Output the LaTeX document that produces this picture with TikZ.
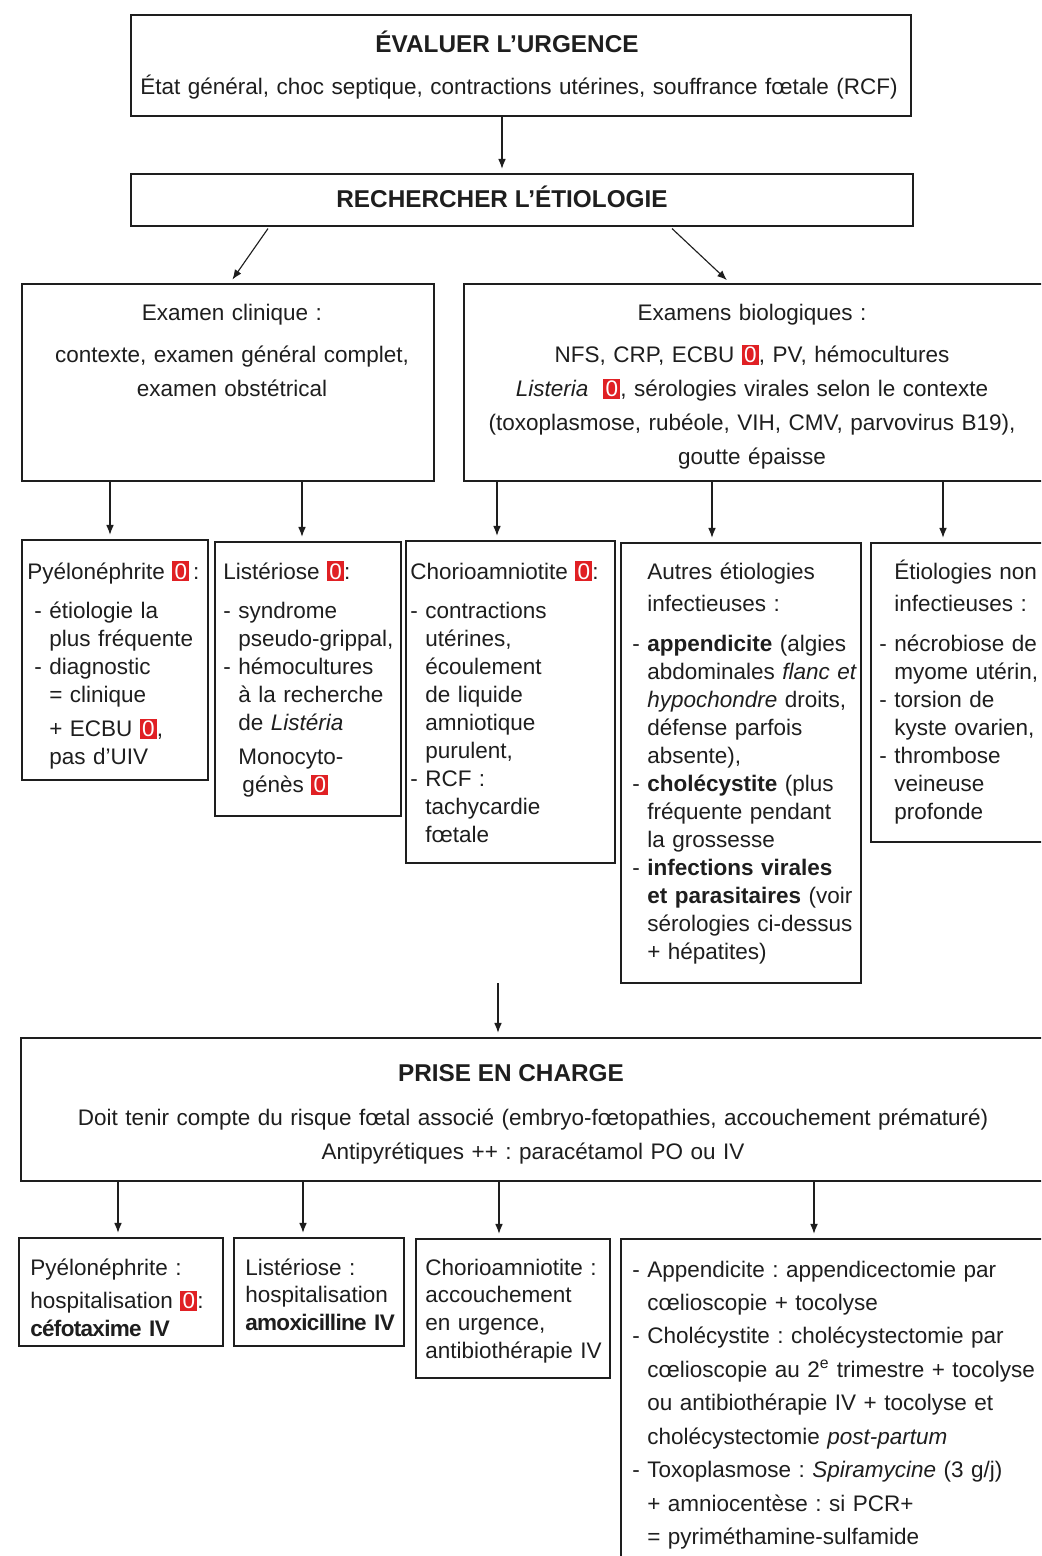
\documentclass[tikz,border=0pt]{standalone}
\usepackage{fontspec}
\setmainfont{Liberation Sans}
\usetikzlibrary{arrows.meta}

\definecolor{ink}{RGB}{30,30,30}
\definecolor{badgered}{RGB}{224,32,36}

\newcommand{\redzero}{{\setlength{\fboxsep}{1.6pt}\colorbox{badgered}{\textcolor{white}{0}}}}
\newcommand{\dashpad}{\hphantom{- }}
\newcommand{\smallpad}{\hspace*{5pt}}
\newcommand{\drug}[1]{\textbf{\addfontfeature{LetterSpace=-3}#1}}
\frenchspacing

\begin{document}
\begin{tikzpicture}[x=0.025cm, y=-0.025cm,
    box/.style 2 args={draw=ink, line width=1.1pt, anchor=north west, inner sep=0pt,
        minimum width=#1*0.025cm, minimum height=#2*0.025cm},
    txt/.style={anchor=base west, inner sep=0pt, text width=#1*0.025cm, align=left,
        font=\fontsize{16}{19.9}\selectfont, text=ink},
    ctxt/.style={anchor=base, inner sep=0pt, text width=#1*0.025cm, align=center,
        font=\fontsize{16}{24.2}\selectfont, text=ink},
    head/.style={anchor=base, inner sep=0pt, font=\bfseries\fontsize{17.3}{20}\selectfont, text=ink},
    arr/.style={draw=ink, line width=0.8pt, -{Latex[length=7pt,width=5.5pt]}, shorten >=3pt},
  ]

  % page, boxes on the right and at the bottom run past the edge
  \useasboundingbox (0,0) rectangle (1041,1556);
  \fill[white] (0,0) rectangle (1041,1556);
  \clip (0,0) rectangle (1041,1556);

  % arrow columns
  \coordinate (colEval) at (502,0);
  \coordinate (colPy) at (110,0);
  \coordinate (colLi) at (302,0);
  \coordinate (colCh) at (497,0);
  \coordinate (colAu) at (712,0);
  \coordinate (colNo) at (943,0);
  \coordinate (colGap) at (498,983);   % arrow with a free start
  \coordinate (colT1) at (118,0);
  \coordinate (colT2) at (303,0);
  \coordinate (colT3) at (499,0);
  \coordinate (colT4) at (814,0);

  % urgence
  \node[box={780}{101}] (eval) at (130,14) {};
  \node[head] (evalT) at (507,53) {ÉVALUER L’URGENCE};
  \node[ctxt=770] (evalB) at (519,95) {État général, choc septique, contractions utérines, souffrance fœtale (RCF)};

  % etiologie
  \node[box={782}{52}] (rech) at (130,173) {};
  \node[head] (rechT) at (502,208) {RECHERCHER L’ÉTIOLOGIE};

  % examens
  \node[box={412}{197}] (clin) at (21,283) {};
  \node[ctxt=400] (clinT) at (232,320) {Examen clinique :\\[6pt]
    contexte, examen général complet,\\
    examen obstétrical};

  \node[box={610}{197}] (bio) at (463,283) {};
  \node[ctxt=590] (bioT) at (752,320) {Examens biologiques :\\[6pt]
    NFS, CRP, ECBU \redzero, PV, hémocultures\\
    \textit{Listeria}\ \ \redzero, sérologies virales selon le contexte\\
    (toxoplasmose, rubéole, VIH, CMV, parvovirus B19),\\
    goutte épaisse};

  % causes
  \node[box={186}{240}] (pyelo) at (21,539) {};
  \node[txt=180] (pyeloT) at ([shift={(6,40)}]pyelo.north west) {Pyélonéphrite \redzero\,:\\[8.5pt]
    \smallpad- étiologie la\\
    \smallpad\dashpad plus fréquente\\
    \smallpad- diagnostic\\
    \smallpad\dashpad = clinique\\[4pt]
    \smallpad\dashpad + ECBU \redzero,\\
    \smallpad\dashpad pas d’UIV};

  \node[box={186}{274}] (liste) at (214,541) {};
  \node[txt=180] (listeT) at ([shift={(9,38)}]liste.north west) {Listériose \redzero:\\[8.5pt]
    - syndrome\\
    \dashpad pseudo-grippal,\\
    - hémocultures\\
    \dashpad à la recherche\\
    \dashpad de \textit{Listéria}\\[4pt]
    \dashpad Monocyto-\\
    \dashpad\hspace*{3pt}génès \redzero};

  \node[box={209}{322}] (chorio) at (405,540) {};
  \node[txt=200] (chorioT) at ([shift={(5,39)}]chorio.north west) {Chorioamniotite \redzero:\\[8.5pt]
    - contractions\\
    \dashpad utérines,\\
    \dashpad écoulement\\
    \dashpad de liquide\\
    \dashpad amniotique\\
    \dashpad purulent,\\
    - RCF :\\
    \dashpad tachycardie\\
    \dashpad fœtale};

  \node[box={240}{440}] (autres) at (620,542) {};
  \node[txt=230] (autresT) at ([shift={(12,37)}]autres.north west) {\dashpad Autres étiologies\\[3pt]
    \dashpad infectieuses :\\[9pt]
    - \textbf{appendicite} (algies\\
    \dashpad abdominales \textit{flanc et}\\
    \dashpad\textit{hypochondre} droits,\\
    \dashpad défense parfois\\
    \dashpad absente),\\
    - \textbf{cholécystite} (plus\\
    \dashpad fréquente pendant\\
    \dashpad la grossesse\\
    - \textbf{infections virales}\\
    \dashpad\textbf{et parasitaires} (voir\\
    \dashpad sérologies ci-dessus\\
    \dashpad + hépatites)};

  \node[box={200}{299}] (noninf) at (870,542) {};
  \node[txt=190] (noninfT) at ([shift={(9,37)}]noninf.north west) {\dashpad Étiologies non\\[3pt]
    \dashpad infectieuses :\\[9pt]
    - nécrobiose de\\
    \dashpad myome utérin,\\
    - torsion de\\
    \dashpad kyste ovarien,\\
    - thrombose\\
    \dashpad veineuse\\
    \dashpad profonde};

  % prise en charge
  \node[box={1040}{143}] (prise) at (20,1037) {};
  \node[head] (priseT) at (511,1081) {PRISE EN CHARGE};
  \node[ctxt=1000] (priseB) at (533,1125) {Doit tenir compte du risque fœtal associé (embryo-fœtopathies, accouchement prématuré)\\
    Antipyrétiques ++ : paracétamol PO ou IV};

  \node[box={204}{108}] (trtPyelo) at (18,1237) {};
  \node[txt=195] (trtPyeloT) at ([shift={(12,38)}]trtPyelo.north west) {Pyélonéphrite :\\[4pt]
    hospitalisation \redzero:\\
    \drug{céfotaxime IV}};

  \node[box={170}{108}] (trtListe) at (233,1237) {};
  \node[txt=165] (trtListeT) at ([shift={(12,38)}]trtListe.north west) {Listériose :\\
    hospitalisation\\
    \drug{amoxicilline IV}};

  \node[box={194}{139}] (trtChorio) at (415,1238) {};
  \node[txt=190] (trtChorioT) at ([shift={(10,37)}]trtChorio.north west) {Chorioamniotite :\\
    accouchement\\
    en urgence,\\
    antibiothérapie IV};

  \node[box={440}{340}] (trtAutres) at (620,1238) {};
  \node[txt=420, font=\fontsize{16}{23.8}\selectfont] (trtAutresT) at ([shift={(12,39)}]trtAutres.north west) {- Appendicite : appendicectomie par\\
    \dashpad cœlioscopie + tocolyse\\
    - Cholécystite : cholécystectomie par\\
    \dashpad cœlioscopie au 2\textsuperscript{e} trimestre + tocolyse\\
    \dashpad ou antibiothérapie IV + tocolyse et\\
    \dashpad cholécystectomie \textit{post-partum}\\
    - Toxoplasmose : \textit{Spiramycine} (3 g/j)\\
    \dashpad + amniocentèse : si PCR+\\
    \dashpad = pyriméthamine-sulfamide};

  % connectors
  \draw[arr] (eval.south -| colEval) -- (rech.north -| colEval);
  \draw[arr] ([shift={(138,2)}]rech.south west) -- ([shift={(209,0)}]clin.north west);
  \draw[arr] ([shift={(542,2)}]rech.south west) -- ([shift={(267,0)}]bio.north west);

  \draw[arr] (clin.south -| colPy) -- (pyelo.north -| colPy);
  \draw[arr] (clin.south -| colLi) -- (liste.north -| colLi);
  \draw[arr] (bio.south -| colCh) -- (chorio.north -| colCh);
  \draw[arr] (bio.south -| colAu) -- (autres.north -| colAu);
  \draw[arr] (bio.south -| colNo) -- (noninf.north -| colNo);

  \draw[arr] (colGap) -- (prise.north -| colGap);

  \draw[arr] (prise.south -| colT1) -- (trtPyelo.north -| colT1);
  \draw[arr] (prise.south -| colT2) -- (trtListe.north -| colT2);
  \draw[arr] (prise.south -| colT3) -- (trtChorio.north -| colT3);
  \draw[arr] (prise.south -| colT4) -- (trtAutres.north -| colT4);

\end{tikzpicture}
\end{document}
